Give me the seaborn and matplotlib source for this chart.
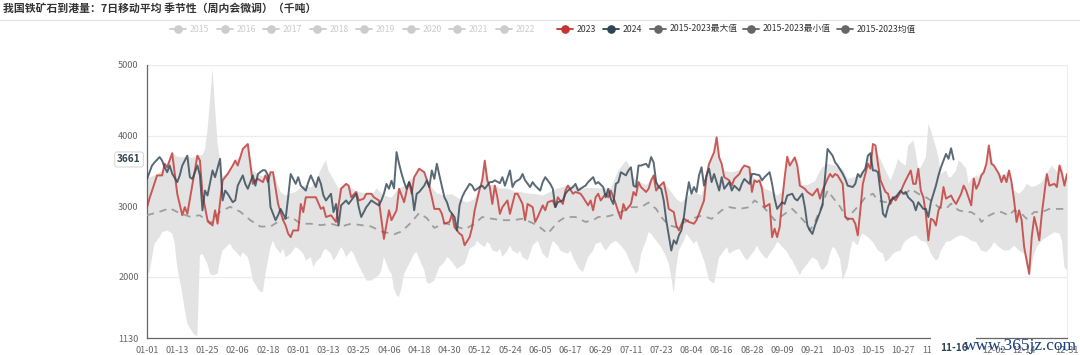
import numpy as np
import pandas as pd
import matplotlib
matplotlib.use("Agg")
import matplotlib.pyplot as plt
from matplotlib.lines import Line2D
import seaborn as sns

# ---------------- data (day index of a leap year, value in kt) ----------------
days_2023 = [0,1,4,6,7,8,10,11,12,14,15,16,20,21,22,24,26,27,28,30,32,34,35,36,37,38,40,42,43,44,46,47,48,49,50,
             52,54,55,56,57,58,60,61,62,63,67,69,70,71,73,75,77,79,80,81,83,84,86,87,89,90,92,94,96,97,99,100,102,
             103,104,105,106,108,110,112,113,114,116,117,118,120,121,122,124,125,126,128,129,130,132,133,134,135,136,
             137,138,139,140,141,143,144,145,146,147,149,150,151,153,154,155,157,158,159,161,162,163,165,166,167,169,
             170,172,173,175,176,177,178,179,180,182,183,184,186,187,188,189,190,192,193,194,195,196,198,199,200,201,
             202,203,205,206,207,209,210,211,213,214,215,217,218,219,221,222,223,225,226,227,228,229,231,232,233,235,
             236,237,239,240,241,242,243,244,245,247,248,249,250,251,252,253,254,255,257,258,259,261,262,264,266,267,
             268,270,271,272,273,274,276,277,278,280,281,282,283,284,286,287,288,289,290,291,293,294,295,296,297,299,
             300,301,303,304,305,306,307,308,309,310,311,312,313,314,315,316,317,319,320,321,323,324,325,327,328,329,
             330,331,332,333,334,335,336,338,339,340,341,342,343,344,345,346,347,348,350,351,352,353,354,355,356,357,
             358,360,361,362,363,364,365]
vals_2023 = [2980,3110,3435,3435,3600,3550,3750,3460,3175,2870,2985,2890,3715,3645,3175,2800,2725,2940,2750,3365,3455,
             3575,3645,3575,3690,3810,3880,3315,3365,3385,3340,3435,3340,3480,3480,3030,2800,2725,2610,2560,2655,2655,
             3030,2915,3125,3125,2960,2985,2845,2870,2775,3245,3315,3290,3125,3200,3080,3105,3175,3175,3125,3080,2535,
             2940,2800,2940,3245,3055,3220,3340,3175,3410,3530,3480,3270,3125,2960,2960,2890,2750,2775,2890,2700,2610,
             2585,2445,2560,2700,2940,3245,3365,3645,3365,3270,3030,3290,3125,2890,2985,3080,2890,3030,3175,3175,3030,
             2800,3030,2985,2775,2845,3010,2940,3055,3080,2985,3125,3030,3220,3290,3175,3200,3175,3125,3010,3080,2940,
             3125,3175,3080,3175,3125,3220,3030,2915,2820,3030,2940,3030,3200,3150,3340,3270,3200,3245,3365,3435,3220,
             3270,3340,3175,2960,2915,2725,2655,2820,2800,2775,2750,2800,2890,3080,3435,3600,3765,3975,3690,3600,3410,
             3365,3290,3385,3455,3530,3575,3550,3200,3365,3340,3365,3245,2985,3030,2560,2680,2560,2700,3080,3410,3700,
             3575,3690,3575,3290,3245,3200,3150,3245,3105,3220,3385,3455,3410,3455,3435,3315,2845,2820,2820,2750,2585,
             2940,3315,3600,3530,3880,3860,3600,3365,3200,3175,3030,3125,3080,3200,3290,3365,3505,3315,3315,3530,3220,
             3125,2890,2515,2820,2800,2725,2940,3010,3270,3105,3150,3080,3030,3175,3290,3220,3010,3390,3245,3315,3435,
             3480,3600,3860,3600,3575,3455,3340,3435,3340,3505,3340,3080,2775,2940,2800,2420,2040,2560,2845,2700,2515,
             2890,3175,3455,3290,3315,3270,3575,3455,3290,3455]

days_2024 = [0,1,2,3,5,6,7,8,9,10,12,13,14,16,17,18,20,21,22,23,24,26,27,29,30,31,32,34,35,36,38,39,40,42,43,44,46,47,
             48,49,51,52,53,55,56,57,59,60,61,63,64,65,67,68,69,70,71,73,74,75,76,77,79,80,81,83,84,85,87,88,89,90,92,
             93,94,95,96,97,98,99,100,101,102,103,104,105,106,107,108,110,111,112,113,114,115,116,118,119,120,122,123,
             124,125,126,128,129,130,132,133,134,136,137,138,140,141,142,144,145,146,148,149,150,152,153,154,156,157,
             158,160,161,162,163,165,166,167,169,170,171,173,174,175,177,178,179,181,182,183,184,185,186,187,188,190,
             191,192,193,194,195,196,198,199,200,201,202,203,204,205,206,208,209,210,211,212,213,214,215,216,217,218,
             219,220,221,222,223,224,225,227,228,229,231,232,233,235,236,237,239,240,241,243,244,245,247,248,249,250,
             252,253,254,256,257,258,260,261,262,263,264,265,266,268,269,270,272,273,274,276,277,278,280,281,282,283,
             284,285,286,287,288,289,290,291,292,293,294,295,296,297,299,300,301,302,304,305,306,308,309,310,311,313,
             314,315,317,318,319,320]
vals_2024 = [3385,3480,3575,3620,3695,3645,3550,3480,3575,3460,3340,3435,3575,3715,3410,3385,3575,3435,2940,3220,3150,
             3505,3410,3670,3080,3220,3175,3055,3080,3290,3435,3315,3245,3435,3290,3455,3510,3505,3435,2985,2800,2870,
             2960,2820,3125,3455,3315,3410,3290,3220,3340,3435,3270,3410,3315,3150,3080,3175,2915,3030,2725,3010,3080,
             3030,3080,3175,2985,2845,2985,3030,3080,3055,3010,3080,3175,3315,3245,3360,3250,3765,3600,3460,3340,3245,
             3340,3245,2940,3175,3200,3290,3365,3270,3505,3385,3600,3435,3125,3055,2940,2845,2655,3010,3125,3200,3315,
             3290,3220,3270,3290,3245,3340,3340,3365,3325,3410,3290,3505,3270,3340,3385,3455,3365,3270,3340,3290,3220,
             3340,3410,3315,3245,2985,3055,3080,3175,3220,3270,3315,3220,3270,3290,3340,3410,3315,3340,3270,3125,3245,
             3105,3030,3315,3340,3480,3435,3505,3550,3290,3270,3575,3575,3600,3550,3695,3620,3340,3270,3245,3080,2800,
             2370,2515,2465,2585,2655,2845,3125,3340,3175,3270,3200,3435,3550,3290,3435,3530,3340,3455,3220,3410,3245,
             3340,3220,3290,3220,3315,3385,3315,3455,3455,3435,3365,3410,3480,3315,3105,2960,3055,3030,3150,3175,3105,
             3080,3175,2985,2725,2655,2605,2725,2820,3010,3410,3810,3715,3620,3575,3460,3385,3290,3270,3315,3455,3410,
             3480,3530,3715,3750,3505,3505,3480,3200,2890,2845,2985,3080,3105,3125,3220,3175,3200,3125,3055,2940,3055,
             2960,2960,2845,3055,3290,3435,3550,3740,3670,3820,3661]

days_mean = [0,5,9,13,17,21,25,29,33,37,41,45,49,53,57,61,65,69,73,77,81,85,89,93,98,101,104,108,111,114,118,122,126,
             130,133,137,141,145,149,152,155,159,163,166,170,174,177,179,182,184,188,192,196,199,202,204,207,210,212,216,
             220,224,228,231,235,239,241,244,247,249,252,256,258,261,263,265,268,270,273,275,278,280,283,285,288,290,293,
             296,298,301,303,306,309,311,314,317,319,322,325,327,330,331,334,337,339,342,344,347,349,352,355,358,362,365]
vals_mean = [2870,2920,2970,2900,2850,2870,2750,2920,2990,2920,2800,2710,2710,2800,2850,2750,2750,2730,2750,2710,2750,
             2730,2710,2640,2600,2640,2740,2900,2830,2690,2760,2720,2670,2750,2845,2820,2800,2800,2820,2775,2725,2610,
             2775,2845,2845,2775,2800,2845,2850,2865,2915,2985,2985,3050,2960,2845,2730,2700,2750,2820,2865,2820,2940,
             2985,2960,2985,3080,3010,2890,2800,2865,2960,2890,2775,2655,2775,3030,3220,3080,2990,2800,2915,3030,3125,
             3175,3080,3055,3125,3150,3175,3245,3175,3125,3080,2985,2960,3035,2940,2915,2915,2845,2775,2865,2915,2915,
             2865,2940,2890,2820,2915,2915,2960,2960,2960]

days_max = [0,2,4,6,8,10,12,14,16,18,20,22,23,24,25,26,27,28,29,30,32,34,35,37,38,40,42,44,46,48,50,52,53,55,57,59,61,
            63,65,67,69,71,72,74,76,78,79,81,84,87,90,91,94,97,100,103,104,106,108,110,112,115,118,121,124,127,130,132,
            133,134,136,138,140,143,146,148,151,154,157,160,163,166,167,170,173,176,179,182,184,187,190,191,193,195,198,
            200,201,203,205,207,210,212,215,217,220,222,223,225,226,227,228,229,232,235,236,237,239,241,243,245,248,250,
            252,253,254,255,257,258,260,262,265,267,268,270,273,276,278,281,284,286,288,290,293,295,297,298,299,301,302,
            304,305,306,307,309,310,311,313,314,315,317,318,319,321,322,323,325,326,327,329,330,331,333,334,336,338,340,
            342,344,346,348,349,351,353,355,357,359,361,362,363,364,365]
vals_max = [3400,3420,3450,3500,3600,3750,3700,3690,3700,3680,3720,3720,3800,4070,4500,4950,4400,3880,3650,3420,3470,
            3580,3650,3700,3810,3880,3500,3450,3420,3450,3490,3300,3200,3150,3180,3200,3260,3300,3260,3350,3520,3650,
            3500,3380,3250,3300,3320,3250,3200,3180,3190,3250,3150,3120,3250,3300,3360,3420,3540,3490,3300,3180,3150,
            3170,3100,3050,3100,3260,3400,3650,3300,3300,3250,3250,3200,3200,3180,3170,3150,3200,3250,3280,3300,3280,
            3250,3260,3250,3250,3250,3500,3645,3600,3400,3350,3300,3365,3435,3300,3340,3250,3100,3050,3150,3200,3150,
            3435,3600,3765,3975,3700,3600,3500,3480,3505,3530,3575,3550,3390,3370,3250,3200,3150,3200,3410,3700,3575,
            3690,3575,3300,3300,3350,3500,3550,3600,3575,3530,3385,3410,3505,3645,3880,3740,3505,3365,3550,3670,3620,
            3575,3855,3930,3765,3530,3550,3690,4165,4070,3835,3690,3455,3505,3410,3410,3505,3645,3620,3530,3315,3385,
            3435,3410,3455,3600,3860,3575,3455,3435,3505,3220,3175,3245,3315,3270,3290,3340,3455,3575,3480,3580,3575,
            3385,3455]

days_min = [0,1,3,5,6,8,10,11,12,14,15,16,18,19,20,21,22,24,25,26,28,29,30,32,33,34,36,37,38,40,41,42,44,45,46,47,49,
            50,51,53,54,55,57,58,59,61,62,63,65,66,67,69,70,71,73,74,75,77,78,79,81,82,83,85,86,87,89,90,92,93,94,96,97,
            98,99,100,101,102,104,106,107,108,110,111,112,114,115,116,118,119,120,122,123,124,126,127,128,130,131,132,
            134,135,136,137,139,140,141,143,144,145,147,148,149,151,152,153,155,156,157,159,160,161,163,164,165,167,168,
            169,171,172,173,175,176,177,178,180,181,182,184,186,188,190,192,194,195,196,198,199,200,202,203,204,206,207,
            208,209,210,211,213,214,215,217,218,219,221,222,223,225,226,227,229,230,231,233,235,237,238,239,241,242,243,
            245,246,247,249,250,251,252,254,255,256,258,259,260,262,263,264,266,267,268,270,271,272,273,275,276,278,279,
            280,282,283,284,286,288,290,292,293,295,296,297,299,300,301,303,305,307,309,310,311,313,314,315,317,319,321,
            323,325,327,329,331,333,335,336,338,340,342,344,346,348,350,352,353,355,358,360,362,363,364,365]
vals_min = [2040,2065,2465,2560,2630,2655,2610,2465,2135,1760,1525,1335,1215,1170,1160,2300,2325,2180,2040,2020,2040,
            2230,2370,2440,2465,2395,2325,2275,2345,2275,2135,1950,1830,1785,1785,2040,2420,2510,2420,2325,2395,2275,
            2325,2370,2420,2370,2325,2230,2275,2135,2205,2275,2370,2395,2325,2230,2275,2420,2370,2275,2370,2325,2230,
            2090,2020,1945,1945,1970,2020,2090,2280,2090,2040,1830,1735,1710,1850,2040,2180,2325,2350,2255,2090,1920,
            1900,1945,2040,2135,2205,2275,2255,2160,2110,2135,2180,2275,2395,2440,2510,2465,2420,2490,2465,2370,2350,
            2395,2280,2370,2440,2370,2325,2370,2275,2230,2325,2440,2510,2420,2325,2255,2395,2510,2440,2370,2350,2325,
            2370,2275,2135,2090,2065,2280,2325,2370,2465,2490,2420,2370,2465,2510,2440,2350,2185,2040,2090,2325,2510,
            2630,2605,2510,2465,2420,2280,2185,1995,1760,2135,2370,2510,2610,2560,2465,2510,2420,2230,2090,1950,1900,
            2090,2275,2370,2420,2325,2370,2395,2275,2230,2275,2370,2440,2370,2275,2255,2325,2420,2490,2465,2420,2350,
            2275,2230,2090,2020,2090,2180,2230,2275,2230,2135,2090,2180,2325,2420,2400,2250,1950,2135,2370,2510,2440,
            2560,2610,2560,2490,2370,2325,2205,2275,2325,2350,2370,2465,2510,2560,2585,2510,2490,2420,2325,2230,2255,
            2370,2490,2510,2560,2585,2560,2510,2490,2370,2350,2420,2490,2420,2370,2370,2440,2370,2325,2000,2325,2420,
            2510,2585,2630,2610,2510,2135,2090]

tick_days = [0,12,24,36,48,60,72,84,96,108,120,132,144,156,168,180,192,204,216,228,240,252,264,276,288,300,312,324,336,348,365]
tick_labels = ["01-01","01-13","01-25","02-06","02-18","03-01","03-13","03-25","04-06","04-18","04-30","05-12",
               "05-24","06-05","06-17","06-29","07-11","07-23","08-04","08-16","08-28","09-09","09-21","10-03",
               "10-15","10-27","11-08","","12-02","12-14","12-31"]
y_ticks = [1130, 2000, 3000, 4000, 5000]

legend_names = ["2015","2016","2017","2018","2019","2020","2021","2022","2023","2024",
                "2015-2023最大值","2015-2023最小值","2015-2023均值"]
title = "我国铁矿石到港量：7日移动平均 季节性（周内会微调）（千吨）"
hover_day, hover_label, hover_value = 320, "11-16", 3661

# ---------------- styling ----------------
sns.set_style("white")
plt.rcParams["font.family"] = ["Noto Sans CJK SC", "DejaVu Sans"]

W, H = 1080, 355
fig = plt.figure(figsize=(W / 100, H / 100), dpi=100)
ax = fig.add_axes([147 / W, 1 - 338 / H, 920 / W, 273 / H])

RED = "#c23531"
DARK = "#2f4554"

# band between min and max
band_x = np.concatenate([days_max, days_min[::-1]])
band_y = np.concatenate([vals_max, vals_min[::-1]])
ax.fill(band_x, band_y, color="#e3e3e3", lw=0, zorder=1)

df_mean = pd.DataFrame({"day": days_mean, "v": vals_mean})
df23 = pd.DataFrame({"day": days_2023, "v": vals_2023})
df24 = pd.DataFrame({"day": days_2024, "v": vals_2024})

sns.lineplot(data=df_mean, x="day", y="v", ax=ax, color="#9d9d9d", lw=1.3,
             linestyle=(0, (4, 3.2)), zorder=3, estimator=None)
sns.lineplot(data=df23, x="day", y="v", ax=ax, color=RED, alpha=0.8, lw=1.4, zorder=4, estimator=None)
sns.lineplot(data=df24, x="day", y="v", ax=ax, color=DARK, alpha=0.8, lw=1.4, zorder=5, estimator=None)

ax.set_xlim(0, 365)
ax.set_ylim(1130, 5000)
ax.set_xlabel("")
ax.set_ylabel("")
ax.set_yticks(y_ticks)
ax.set_yticklabels([str(v) for v in y_ticks])
ax.set_xticks(tick_days)
ax.set_xticklabels(tick_labels)
ax.tick_params(axis="both", length=4, width=0.8, color="#666666", labelcolor="#666666",
               labelsize=6.6, pad=2)
for v in y_ticks[1:]:
    ax.axhline(v, color="#ececec", lw=0.9, zorder=0)
ax.spines["top"].set_visible(False)
ax.spines["right"].set_color("#eeeeee")
ax.spines["left"].set_color("#666666")
ax.spines["bottom"].set_color("#666666")
ax.spines["left"].set_linewidth(0.9)
ax.spines["bottom"].set_linewidth(0.9)
ax.grid(False)

# hover labels
ax.text(-0.0195, hover_value, str(hover_value), transform=ax.get_yaxis_transform(),
        ha="center", va="center", fontsize=7.2, fontweight="bold", color="#2f4554",
        bbox=dict(boxstyle="round,pad=0.25", fc="white", ec="#d8d8d8", lw=0.8), zorder=10, clip_on=False)
ax.text(hover_day, -0.035, hover_label, transform=ax.get_xaxis_transform(),
        ha="center", va="center", fontsize=7.2, fontweight="bold", color="#2f4554",
        bbox=dict(boxstyle="square,pad=0.9", fc="white", ec="none"), zorder=10, clip_on=False)

# title and separator
fig.text(3 / W, 1 - 9 / H, title, fontsize=7.8, fontweight="bold", color="#333333", ha="left", va="center")
fig.add_artist(Line2D([0, 1], [1 - 20 / H, 1 - 20 / H], color="#e0e0e0", lw=0.8, transform=fig.transFigure))

# legend
icon_x = [170, 216.5, 263, 309.5, 356, 402.5, 449, 495.5, 557, 603, 650, 743, 837]
icon_col = ["#cccccc"] * 8 + [RED, DARK, "#666666", "#666666", "#666666"]
text_col = ["#cccccc"] * 8 + ["#333333"] * 5
ly = 1 - 29 / H
for name, x0, ic, tc in zip(legend_names, icon_x, icon_col, text_col):
    fig.add_artist(Line2D([x0 / W, (x0 + 16) / W], [ly, ly], color=ic, lw=1.3, transform=fig.transFigure))
    fig.add_artist(Line2D([(x0 + 8) / W], [ly], color=ic, marker="o", markersize=5.2, lw=0,
                          transform=fig.transFigure))
    fig.text((x0 + 20) / W, ly, name, fontsize=6.3, color=tc, ha="left", va="center")

# watermark
fig.text(1077 / W, 1 / H, "www.365jz.com", family="Liberation Serif", fontsize=12.5, color="#1c3f7e",
         ha="right", va="bottom", zorder=20)

fig.savefig("out.png", dpi=100)
